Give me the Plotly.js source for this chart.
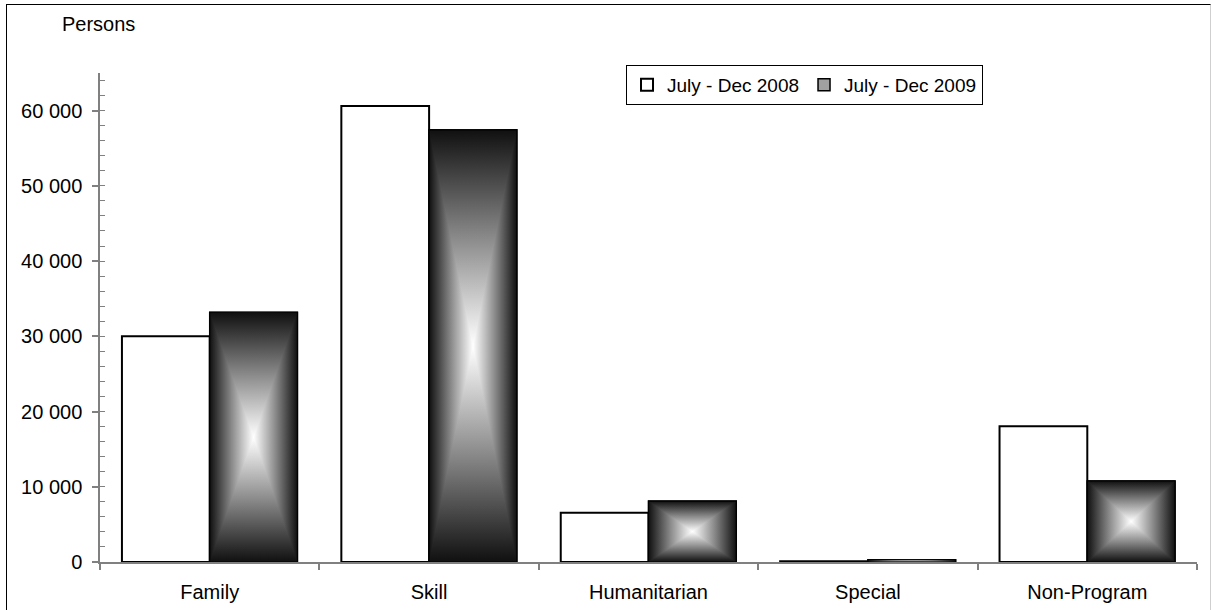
<!DOCTYPE html>
<html>
<head>
<meta charset="utf-8">
<script src="https://cdn.plot.ly/plotly-3.0.1.min.js"></script>
<style>
  html, body { margin: 0; padding: 0; background: #fff; }
  #wrap { position: relative; width: 1211px; height: 610px; }
  #chart { position: absolute; left: 0; top: 0; width: 1211px; height: 610px; }
  #frame { position: absolute; left: 6px; top: 4px; width: 1203px; height: 610px;
           border-left: 1.5px solid #000; border-top: 1.5px solid #000; border-right: 1px solid #cfcfcf;
           pointer-events: none; }
</style>
</head>
<body>
<div id="wrap">
  <div id="chart"></div>
  <div id="frame"></div>
</div>
<script>
// ---- data ----
const categories = ['Family', 'Skill', 'Humanitarian', 'Special', 'Non-Program'];
const seriesNames = ['July - Dec 2008', 'July - Dec 2009'];
const values2008 = [30000, 60600, 6560, 100, 18050];
const values2009 = [33200, 57450, 8100, 300, 10780];
const yTickVals = [0, 10000, 20000, 30000, 40000, 50000, 60000];

// ---- styling constants ----
const FONT = 'Liberation Sans, Arial, sans-serif';
const FS = 20;
const BAR_W = 0.4;
const EDGE = '#101010', MID = '#8a8a8a', CENTER = '#ffffff';

const xPos = categories.map((c, i) => i);

const traces = [
  {
    type: 'bar', name: seriesNames[0], x: xPos, y: values2008,
    offset: -BAR_W, width: BAR_W,
    marker: { color: '#ffffff', line: { color: '#000000', width: 2 } },
    hovertemplate: '%{y}<extra>' + seriesNames[0] + '</extra>'
  },
  {
    type: 'bar', name: seriesNames[1], x: xPos, y: values2009,
    offset: 0, width: BAR_W,
    marker: { color: '#a0a0a0', line: { color: '#000000', width: 1.5 } },
    hovertemplate: '%{y}<extra>' + seriesNames[1] + '</extra>'
  }
];

// box ("from centre") gradient overlay for the 2009 bars, built from the same data
values2009.forEach((v, i) => {
  const x0 = xPos[i], x1 = xPos[i] + BAR_W, cx = (x0 + x1) / 2, cy = v / 2;
  traces.push({
    type: 'scatter', mode: 'lines', x: [x0, x1, x1, x0, x0], y: [0, 0, v, v, 0],
    fill: 'toself', line: { width: 0 },
    fillgradient: { type: 'horizontal', start: x0, stop: x1,
      colorscale: [[0, EDGE], [0.25, MID], [0.5, CENTER], [0.75, MID], [1, EDGE]] },
    showlegend: false, hoverinfo: 'skip'
  });
  traces.push({
    type: 'scatter', mode: 'lines', x: [x0, x1, cx, x0], y: [0, 0, cy, 0],
    fill: 'toself', line: { width: 0 },
    fillgradient: { type: 'vertical', start: 0, stop: cy,
      colorscale: [[0, EDGE], [0.5, MID], [1, CENTER]] },
    showlegend: false, hoverinfo: 'skip'
  });
  traces.push({
    type: 'scatter', mode: 'lines', x: [x0, x1, cx, x0], y: [v, v, cy, v],
    fill: 'toself', line: { width: 0 },
    fillgradient: { type: 'vertical', start: cy, stop: v,
      colorscale: [[0, CENTER], [0.5, MID], [1, EDGE]] },
    showlegend: false, hoverinfo: 'skip'
  });
  traces.push({
    type: 'scatter', mode: 'lines', x: [x0, x1, x1, x0, x0], y: [0, 0, v, v, 0],
    line: { color: '#000', width: 1.2 }, showlegend: false, hoverinfo: 'skip'
  });
});

const layout = {
  width: 1211, height: 610,
  margin: { l: 100, r: 14, t: 73, b: 48, pad: 0 },
  paper_bgcolor: '#ffffff', plot_bgcolor: '#ffffff',
  font: { family: FONT, size: FS, color: '#000' },
  separators: '. ',
  showlegend: true,
  legend: {
    orientation: 'h', x: 0.4795, xanchor: 'left', y: 1.0164, yanchor: 'top',
    bordercolor: '#000', borderwidth: 1, bgcolor: '#fff',
    font: { family: FONT, size: 19, color: '#000' },
    itemwidth: 30, traceorder: 'normal'
  },
  xaxis: {
    type: 'linear', range: [-0.5, categories.length - 0.5],
    tickmode: 'array', tickvals: xPos, ticktext: categories,
    ticks: '', showgrid: false, zeroline: false,
    showline: true, linecolor: '#808080', linewidth: 1.5,
    ticklabelstandoff: 11,
    tickfont: { family: FONT, size: FS, color: '#000' },
    minor: { tickmode: 'linear', tick0: -0.5, dtick: 1, ticks: 'outside', ticklen: 6,
             tickcolor: '#808080', tickwidth: 1.5, showgrid: false },
    fixedrange: true
  },
  yaxis: {
    range: [0, 65000],
    tickmode: 'array', tickvals: yTickVals, tickformat: ',d',
    ticks: 'outside', ticklen: 6, tickcolor: '#808080', tickwidth: 1.5,
    showgrid: false, zeroline: false,
    showline: true, linecolor: '#808080', linewidth: 1.5,
    ticklabelstandoff: 6,
    tickfont: { family: FONT, size: FS, color: '#000' },
    minor: { tickmode: 'linear', tick0: 0, dtick: 2000, ticks: 'inside', ticklen: 5,
             tickcolor: '#808080', tickwidth: 1.2, showgrid: false },
    fixedrange: true
  },
  annotations: [{
    text: 'Persons', xref: 'paper', yref: 'paper',
    x: -0.001, y: 1.1003, xanchor: 'center', yanchor: 'middle',
    showarrow: false, font: { family: FONT, size: FS, color: '#000' }
  }]
};

Plotly.newPlot('chart', traces, layout, { displayModeBar: false });
</script>
</body>
</html>
